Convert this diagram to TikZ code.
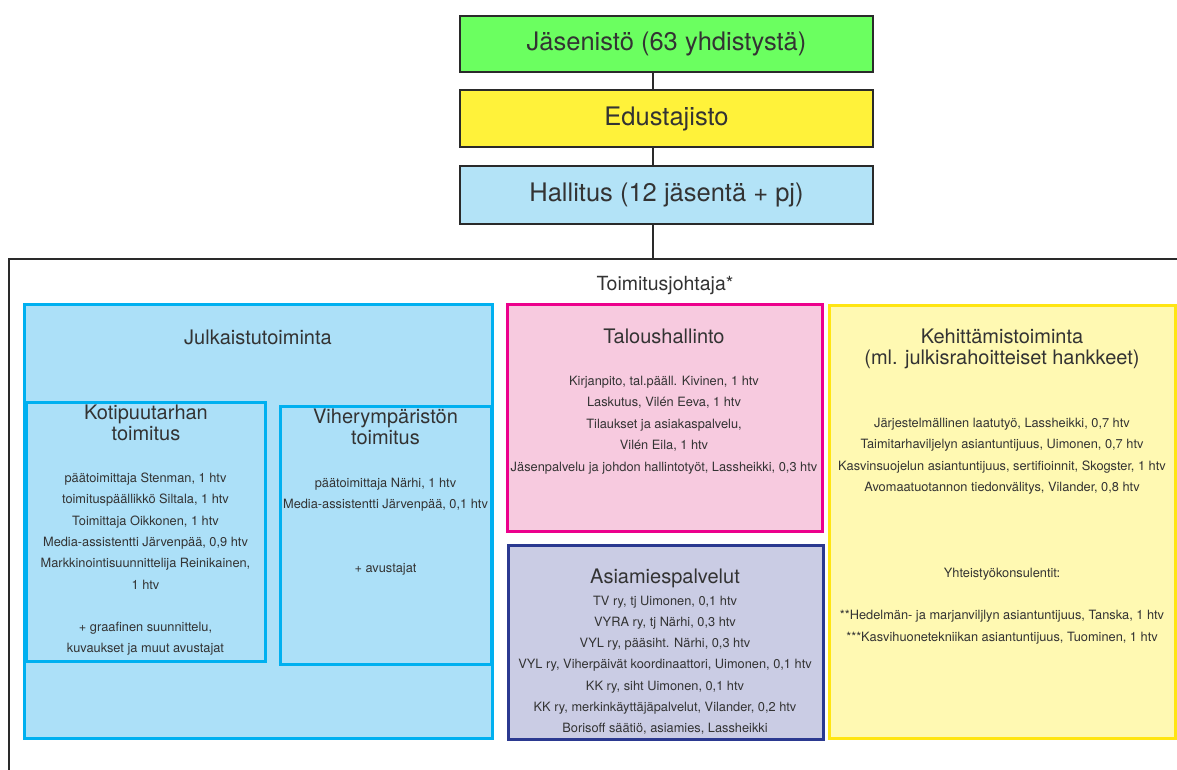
\documentclass[tikz,border=0pt]{standalone}
\usepackage{fontspec}
\setmainfont{TeX Gyre Heros}
\definecolor{txt}{HTML}{333333}
\definecolor{linegray}{HTML}{2A2A2A}
\definecolor{jasgreen}{HTML}{6BFF60}
\definecolor{eduyellow}{HTML}{FFF23A}
\definecolor{halblue}{HTML}{B3E3F7}
\definecolor{julkfill}{HTML}{ACE0F8}
\definecolor{julkline}{HTML}{00B0F0}
\definecolor{pinkfill}{HTML}{F7CADF}
\definecolor{pinkline}{HTML}{EC008C}
\definecolor{lavfill}{HTML}{CACCE4}
\definecolor{lavline}{HTML}{2B3990}
\definecolor{yelfill}{HTML}{FFF9B2}
\definecolor{yelline}{HTML}{FFE512}
\begin{document}
\begin{tikzpicture}[x=1pt,y=-1pt,
  topbox/.style={draw=linegray, line width=2pt, inner sep=0, outer sep=0, anchor=north west,
    font=\fontsize{25.5}{30}\selectfont, text=txt},
  deptbox/.style={line width=3pt, inner sep=0, outer sep=0, anchor=north west},
  conn/.style={draw=linegray, line width=2pt},
  bodytxt/.style={anchor=base, inner sep=0, text=txt, font=\fontsize{12.8}{15}\selectfont},
  titletxt/.style={anchor=base, inner sep=0, text=txt, font=\fontsize{20}{22}\selectfont}]
\useasboundingbox (0,0) rectangle (1177,770);
\clip (0,0) rectangle (1177,770);

% top chain
\node[topbox, fill=jasgreen, minimum width=413pt, minimum height=56pt] (jas) at (460,16) {Jäsenistö (63 yhdistystä)};
\node[topbox, fill=eduyellow, minimum width=413pt, minimum height=57pt] (edu) at (460,90) {Edustajisto};
\node[topbox, fill=halblue, minimum width=413pt, minimum height=58pt] (hal) at (460,166) {Hallitus (12 jäsentä + pj)};

% frame
\node[draw=linegray, line width=2pt, inner sep=0, outer sep=0, anchor=north west, minimum width=1200pt, minimum height=600pt] (frame) at (9,259) {};
\coordinate (cx) at (653,0);
\coordinate (ftop) at (653,259);
\draw[conn] (jas.south -| cx) -- (edu.north -| cx);
\draw[conn] (edu.south -| cx) -- (hal.north -| cx);
\draw[conn] (hal.south -| cx) -- (ftop);

\node[anchor=base, inner sep=0, text=txt, font=\fontsize{19.5}{22}\selectfont] (toj) at (665,290) {Toimitusjohtaja*};

% department boxes
\node[deptbox, draw=julkline, fill=julkfill, minimum width=468pt, minimum height=434pt] (julk) at (24,304) {};
\node[deptbox, draw=julkline, fill=julkfill, minimum width=239pt, minimum height=259pt] (koti) at (26,402) {};
\node[deptbox, draw=julkline, fill=julkfill, minimum width=211pt, minimum height=258pt] (viher) at (280,406) {};
\node[deptbox, draw=pinkline, fill=pinkfill, minimum width=315pt, minimum height=227pt] (talous) at (507,304) {};
\node[deptbox, draw=lavline, fill=lavfill, minimum width=315pt, minimum height=194pt] (asiam) at (508,545) {};
\node[deptbox, draw=yelline, fill=yelfill, minimum width=346pt, minimum height=433pt] (kehit) at (829,305) {};

% Julkaistutoiminta
\node[titletxt] (julkT) at (258,344) {Julkaistutoiminta};

% Kotipuutarhan toimitus
\node[titletxt] (kotiT1) at (146,419) {Kotipuutarhan};
\node[titletxt] (kotiT2) at (146,440) {toimitus};
\foreach \i/\t in {0/{päätoimittaja Stenman, 1 htv},
                   1/{toimituspäällikkö Siltala, 1 htv},
                   2/{Toimittaja Oikkonen, 1 htv},
                   3/{Media-assistentti Järvenpää, 0,9 htv},
                   4/{Markkinointisuunnittelija Reinikainen,},
                   5/{1 htv},
                   7/{+ graafinen suunnittelu,},
                   8/{kuvaukset ja muut avustajat}}
  \node[bodytxt] (koti\i) at (145.5,482.5+21.3*\i) {\t};

% Viherympäristön toimitus
\node[titletxt] (viherT1) at (385.5,423) {Viherympäristön};
\node[titletxt] (viherT2) at (385.5,444) {toimitus};
\foreach \i/\t in {0/{päätoimittaja Närhi, 1 htv},
                   1/{Media-assistentti Järvenpää, 0,1 htv},
                   4/{+ avustajat}}
  \node[bodytxt] (viher\i) at (385.5,487.5+21.3*\i) {\t};

% Taloushallinto
\node[titletxt] (talousT) at (664,343) {Taloushallinto};
\foreach \i/\t in {0/{Kirjanpito, tal.pääll. Kivinen, 1 htv},
                   1/{Laskutus, Vilén Eeva, 1 htv},
                   2/{Tilaukset ja asiakaspalvelu,},
                   3/{Vilén Eila, 1 htv},
                   4/{Jäsenpalvelu ja johdon hallintotyöt, Lassheikki, 0,3 htv}}
  \node[bodytxt] (talous\i) at (664,385.4+21.4*\i) {\t};

% Asiamiespalvelut
\node[titletxt] (asiamT) at (665,583) {Asiamiespalvelut};
\foreach \i/\t in {0/{TV ry, tj Uimonen, 0,1 htv},
                   1/{VYRA ry, tj Närhi, 0,3 htv},
                   2/{VYL ry, pääsiht. Närhi, 0,3 htv},
                   3/{VYL ry, Viherpäivät koordinaattori, Uimonen, 0,1 htv},
                   4/{KK ry, siht Uimonen, 0,1 htv},
                   5/{KK ry, merkinkäyttäjäpalvelut, Vilander, 0,2 htv},
                   6/{Borisoff säätiö, asiamies, Lassheikki}}
  \node[bodytxt] (asiam\i) at (665,605.4+21.15*\i) {\t};

% Kehittämistoiminta
\node[titletxt] (kehitT1) at (1002,343) {Kehittämistoiminta};
\node[titletxt] (kehitT2) at (1002,364) {(ml. julkisrahoitteiset hankkeet)};
\foreach \i/\t in {0/{Järjestelmällinen laatutyö, Lassheikki, 0,7 htv},
                   1/{Taimitarhaviljelyn asiantuntijuus, Uimonen, 0,7 htv},
                   2/{Kasvinsuojelun asiantuntijuus, sertifioinnit, Skogster, 1 htv},
                   3/{Avomaatuotannon tiedonvälitys, Vilander, 0,8 htv}}
  \node[bodytxt] (kehit\i) at (1002,427.4+21.5*\i) {\t};
\node[bodytxt] (yht) at (1002,577.5) {Yhteistyökonsulentit:};
\node[bodytxt] (yht1) at (1002,619.5) {**Hedelmän- ja marjanviljlyn asiantuntijuus, Tanska, 1 htv};
\node[bodytxt] (yht2) at (1002,641) {***Kasvihuonetekniikan asiantuntijuus, Tuominen, 1 htv};
\end{tikzpicture}
\end{document}
